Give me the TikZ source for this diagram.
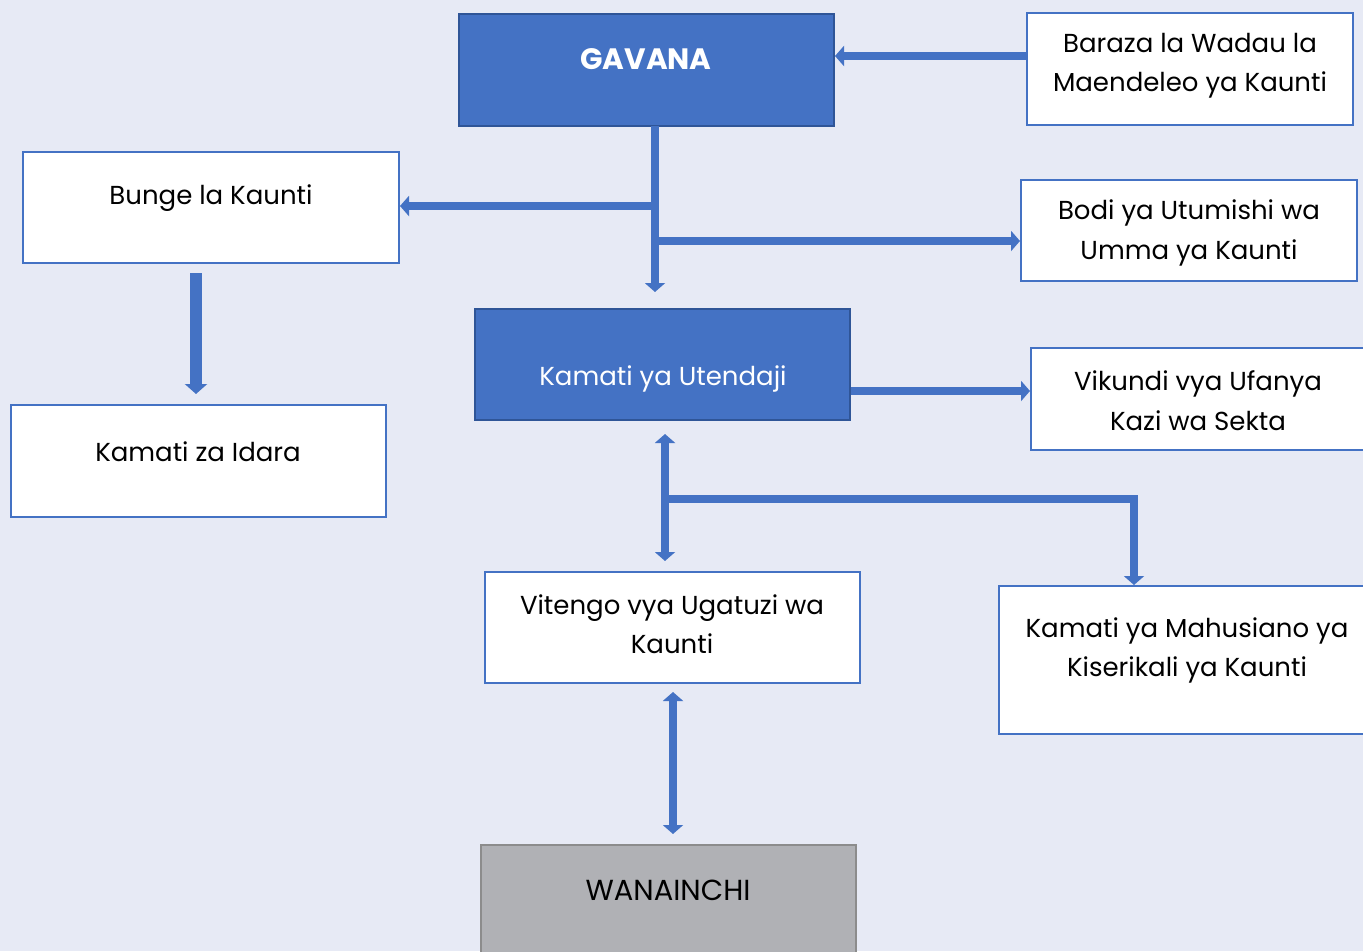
\documentclass[tikz,border=0pt]{standalone}
\usepackage{fontspec}
\setmainfont{Poppins}
\usetikzlibrary{arrows.meta}
\definecolor{bg}{HTML}{E7EAF5}
\definecolor{blu}{HTML}{4472C4}
\definecolor{dblu}{HTML}{2F5597}
\definecolor{gry}{HTML}{B0B1B5}
\definecolor{dgry}{HTML}{8C8C8C}
\tikzset{
  box/.style={draw=blu, line width=2pt, fill=white, rectangle, inner sep=0pt},
  bluebox/.style={draw=dblu, line width=2pt, fill=blu, rectangle, inner sep=0pt},
  greybox/.style={draw=dgry, line width=2pt, fill=gry, rectangle, inner sep=0pt},
  txt/.style={font=\fontsize{26}{39.5}\selectfont, align=center, text=black, inner sep=0pt},
  wtxt/.style={txt, text=white},
  conn/.style={draw=blu, line width=8pt},
  arr/.style={conn, -{Triangle[width=20pt,length=9pt]}},
  darr/.style={conn, {Triangle[width=20pt,length=9pt]}-{Triangle[width=20pt,length=9pt]}},
}
\begin{document}
\begin{tikzpicture}[x=1pt,y=-1pt]
\fill[bg] (0,0) rectangle (1363,951);
\useasboundingbox (0,0) rectangle (1363,951);
% boxes
\node[bluebox, minimum width=375pt, minimum height=112pt] (gav) at (646.5,70) {};
\node[box, minimum width=326pt, minimum height=112pt] (bar) at (1190,69) {};
\node[box, minimum width=376pt, minimum height=111pt] (bun) at (211,207.5) {};
\node[box, minimum width=336pt, minimum height=101pt] (bod) at (1189,230.5) {};
\node[bluebox, minimum width=375pt, minimum height=111pt] (kut) at (662.5,364.5) {};
\node[box, minimum width=340pt, minimum height=102pt] (vik) at (1201,399) {};
\node[box, minimum width=375pt, minimum height=112pt] (ida) at (198.5,461) {};
\node[box, minimum width=375pt, minimum height=111pt] (vit) at (672.5,627.5) {};
\node[box, minimum width=370pt, minimum height=148pt] (mah) at (1184,660) {};
\node[greybox, minimum width=375pt, minimum height=120pt] (wan) at (668.5,905) {};
% texts
\node[wtxt, font=\fontsize{29.5}{39}\selectfont\bfseries] (gavt) at (646,59) {GAVANA};
\node[txt] (bart) at (1190,65.5) {Baraza la Wadau la\\Maendeleo ya Kaunti};
\node[txt] (bunt) at (211,198) {Bunge la Kaunti};
\node[txt] (bodt) at (1189,233) {Bodi ya Utumishi wa\\Umma ya Kaunti};
\node[wtxt] (kutt) at (663,379) {Kamati ya Utendaji};
\node[txt] (vikt) at (1198,400.5) {Vikundi vya Ufanya\\Kazi wa Sekta};
\node[txt] (idat) at (198,452) {Kamati za Idara};
\node[txt] (vitt) at (672,624) {Vitengo vya Ugatuzi wa\\Kaunti};
\node[txt] (maht) at (1187,650.5) {Kamati ya Mahusiano ya\\Kiserikali ya Kaunti};
\node[txt, font=\fontsize{29}{39}\selectfont] (want) at (668,890) {WANAINCHI};
% helper coordinates
\coordinate (trunkTop) at (655,126);
\coordinate (trunkEnd) at (655,292);
\coordinate (brBun) at (655,206);
\coordinate (brBod) at (655,241);
\coordinate (cA) at (665,499);
\coordinate (cB) at (1134,499);
% connectors
\draw[arr] (bar.west |- 0,56) -- (gav.east |- 0,56);
\draw[arr] (trunkTop) -- (trunkEnd);
\draw[arr] (brBun) -- (bun.east |- brBun);
\draw[arr] (brBod) -- (bod.west |- brBod);
\draw[arr] (kut.east |- 0,391) -- (vik.west |- 0,391);
\draw[arr, line width=12pt, -{Triangle[width=22pt,length=10pt]}, shorten <=9pt, shorten >=10pt] (bun.south -| 196,0) -- (ida.north -| 196,0);
\draw[darr, shorten <=13pt, shorten >=10pt] (kut.south -| cA) -- (vit.north -| cA);
\draw[arr] (cA) -- (cB) -- (mah.north -| cB);
\draw[darr, shorten <=8pt, shorten >=10pt] (vit.south -| 673,0) -- (wan.north -| 673,0);
\end{tikzpicture}
\end{document}
